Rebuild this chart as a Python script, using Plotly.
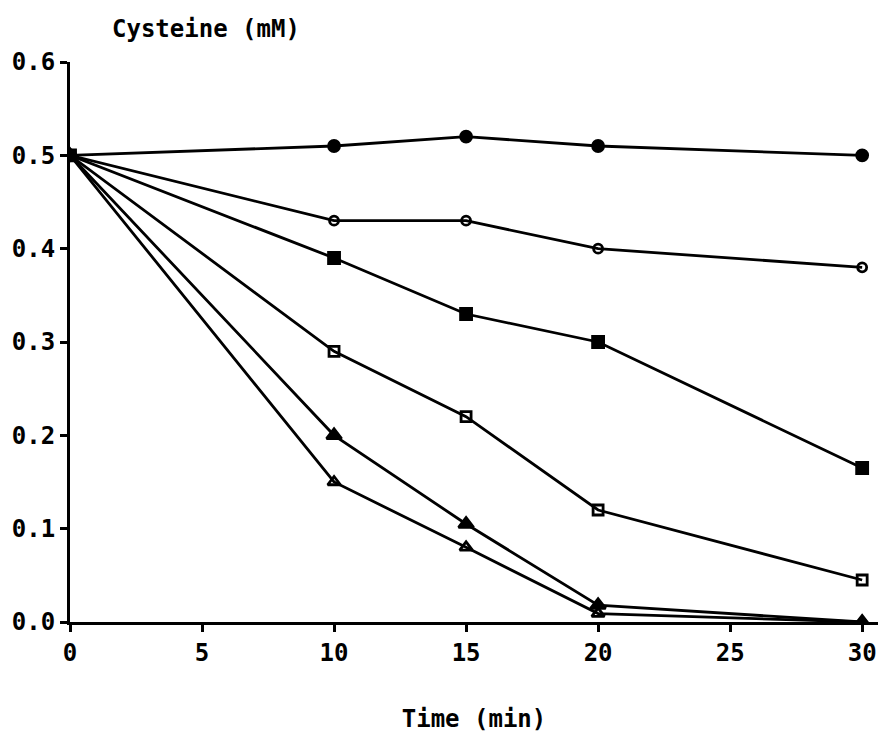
import plotly.graph_objects as go

time = [0, 10, 15, 20, 30]
filled_circle = [0.50, 0.51, 0.52, 0.51, 0.50]
open_circle = [0.50, 0.43, 0.43, 0.40, 0.38]
filled_square = [0.50, 0.39, 0.33, 0.30, 0.165]
open_square = [0.50, 0.29, 0.22, 0.12, 0.045]
filled_triangle = [0.50, 0.20, 0.105, 0.018, 0.0]
open_triangle = [0.50, 0.15, 0.08, 0.009, 0.0]

x_ticks = [0, 5, 10, 15, 20, 25, 30]
y_ticks = [0.0, 0.1, 0.2, 0.3, 0.4, 0.5, 0.6]

FONT = "DejaVu Sans Mono"

series = [
    (filled_circle, "circle", 11, "black"),
    (open_circle, "circle-open", 9, "black"),
    (filled_square, "square", 11, "black"),
    (open_square, "square-open", 10, "black"),
    (filled_triangle, "triangle-up", 13, "black"),
    (open_triangle, "triangle-up-open", 11, "black"),
]

fig = go.Figure()
for ys, sym, size, col in series:
    fig.add_trace(go.Scatter(
        x=time, y=ys, mode="lines+markers",
        line=dict(color="black", width=2.8),
        marker=dict(symbol=sym, size=size, color="black",
                    line=dict(color="black", width=2.8)),
        showlegend=False,
    ))

fig.update_layout(
    width=881, height=735,
    margin=dict(l=70, r=3, t=62, b=113),
    paper_bgcolor="white", plot_bgcolor="white",
    font=dict(family=FONT, color="black", size=24, weight="bold"),
)
fig.update_xaxes(
    range=[0, 30.6], tickvals=x_ticks, ticktext=[str(v) for v in x_ticks],
    showline=True, linecolor="black", linewidth=3, showgrid=False, zeroline=False,
    ticks="outside", ticklen=7, tickwidth=2.5, tickcolor="black",
    title=dict(text="Time (min)", font=dict(family=FONT, size=24, weight="bold"), standoff=45),
)
fig.update_yaxes(
    range=[0, 0.6], tickvals=y_ticks, ticktext=[f"{v:.1f}" for v in y_ticks],
    showline=True, linecolor="black", linewidth=3, showgrid=False, zeroline=False,
    ticks="outside", ticklen=7, tickwidth=2.5, tickcolor="black",
)
fig.add_annotation(
    text="Cysteine (mM)", xref="paper", yref="paper", x=0.05, y=1.0,
    yshift=17, xanchor="left", yanchor="bottom", showarrow=False,
    font=dict(family=FONT, size=24, weight="bold"),
)
fig.write_html("out.html")
